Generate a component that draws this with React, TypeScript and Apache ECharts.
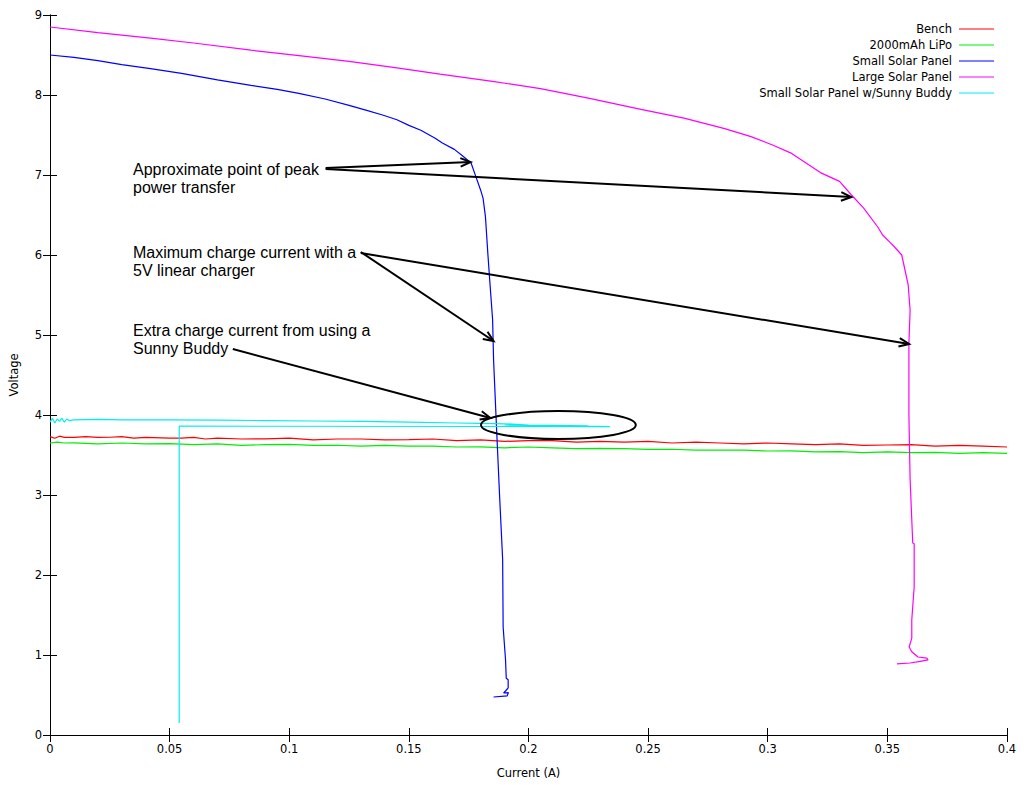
import React, { useEffect, useRef } from "react";
import * as echarts from "echarts";

// ---- data (current A, voltage V) ----
const seriesNames = [
  "Bench",
  "2000mAh LiPo",
  "Small Solar Panel",
  "Large Solar Panel",
  "Small Solar Panel w/Sunny Buddy",
];
const seriesColors = ["#ff0000", "#00ee00", "#0000ff", "#ff00ff", "#00eeee"];

const bench: number[][] = [
  [0, 3.73], [0.002, 3.71], [0.004, 3.735], [0.006, 3.72], [0.01, 3.72], [0.015, 3.73],
  [0.02, 3.72], [0.025, 3.722], [0.03, 3.73], [0.035, 3.71], [0.04, 3.72], [0.05, 3.71],
  [0.055, 3.712], [0.06, 3.72], [0.065, 3.70], [0.07, 3.71], [0.08, 3.70], [0.09, 3.702],
  [0.1, 3.71], [0.11, 3.69], [0.12, 3.70], [0.13, 3.70], [0.14, 3.69], [0.15, 3.692],
  [0.16, 3.70], [0.17, 3.68], [0.18, 3.69], [0.19, 3.67], [0.2, 3.68], [0.21, 3.68],
  [0.22, 3.66], [0.23, 3.67], [0.24, 3.66], [0.25, 3.67], [0.26, 3.65], [0.27, 3.66],
  [0.28, 3.65], [0.29, 3.64], [0.3, 3.65], [0.31, 3.64], [0.32, 3.63], [0.33, 3.64],
  [0.34, 3.62], [0.35, 3.625], [0.36, 3.63], [0.37, 3.61], [0.38, 3.62], [0.39, 3.61],
  [0.4, 3.6],
];

const lipo: number[][] = [
  [0, 3.65], [0.003, 3.66], [0.006, 3.65], [0.01, 3.652], [0.02, 3.64], [0.03, 3.65],
  [0.04, 3.64], [0.05, 3.642], [0.06, 3.63], [0.07, 3.64], [0.08, 3.62], [0.09, 3.63],
  [0.1, 3.632], [0.11, 3.62], [0.12, 3.622], [0.13, 3.61], [0.14, 3.62], [0.15, 3.61],
  [0.16, 3.612], [0.17, 3.60], [0.18, 3.602], [0.19, 3.59], [0.2, 3.60], [0.21, 3.59],
  [0.22, 3.58], [0.23, 3.582], [0.24, 3.58], [0.25, 3.57], [0.26, 3.572], [0.27, 3.56],
  [0.28, 3.562], [0.29, 3.56], [0.3, 3.55], [0.31, 3.552], [0.32, 3.54], [0.33, 3.542],
  [0.34, 3.53], [0.35, 3.54], [0.36, 3.53], [0.37, 3.532], [0.38, 3.52], [0.39, 3.53],
  [0.4, 3.52],
];

const smallPanel: number[][] = [
  [0, 8.5], [0.01, 8.47], [0.02, 8.43], [0.03, 8.38], [0.042, 8.33], [0.055, 8.27],
  [0.07, 8.19], [0.084, 8.12], [0.095, 8.07], [0.104, 8.02], [0.115, 7.95], [0.125, 7.87],
  [0.132, 7.81], [0.139, 7.75], [0.145, 7.69], [0.15, 7.62], [0.155, 7.56], [0.161, 7.46],
  [0.164, 7.4], [0.169, 7.32], [0.172, 7.25], [0.176, 7.15], [0.178, 6.98], [0.18, 6.81],
  [0.181, 6.71], [0.182, 6.48], [0.183, 6.02], [0.184, 5.6], [0.185, 5.19], [0.1854, 4.69],
  [0.1864, 4.0], [0.1879, 3.0], [0.1892, 2.19], [0.1894, 1.35], [0.1904, 0.94],
  [0.1907, 0.71], [0.1915, 0.69], [0.1915, 0.59], [0.1904, 0.55], [0.1896, 0.525],
  [0.1916, 0.53], [0.1911, 0.49], [0.1854, 0.475],
];

const largePanel: number[][] = [
  [0, 8.85], [0.02, 8.78], [0.042, 8.71], [0.06, 8.65], [0.084, 8.56], [0.105, 8.49],
  [0.125, 8.42], [0.145, 8.34], [0.163, 8.26], [0.185, 8.17], [0.205, 8.08], [0.225, 7.96],
  [0.247, 7.82], [0.265, 7.71], [0.282, 7.58], [0.293, 7.48], [0.302, 7.375], [0.31, 7.27],
  [0.316, 7.15], [0.322, 7.03], [0.33, 6.92], [0.335, 6.75], [0.34, 6.59], [0.346, 6.35],
  [0.348, 6.25], [0.351, 6.16], [0.353, 6.1], [0.356, 6.0], [0.3587, 5.625], [0.3595, 5.31],
  [0.359, 4.9], [0.359, 4.0], [0.3595, 3.2], [0.3602, 2.69], [0.3606, 2.4], [0.3612, 2.39],
  [0.3612, 1.85], [0.3602, 1.44], [0.3602, 1.21], [0.3591, 1.1], [0.3602, 1.04],
  [0.3628, 0.975], [0.3665, 0.96], [0.367, 0.94], [0.3637, 0.92], [0.3595, 0.9],
  [0.354, 0.89],
];

const sunnyBuddy: number[][] = [
  [0, 3.91], [0.001, 3.96], [0.002, 3.9], [0.003, 3.95], [0.004, 3.92], [0.005, 3.96],
  [0.006, 3.91], [0.007, 3.95], [0.008, 3.93], [0.01, 3.94], [0.02, 3.945], [0.03, 3.94],
  [0.05, 3.94], [0.07, 3.935], [0.09, 3.93], [0.11, 3.925], [0.13, 3.92], [0.15, 3.91],
  [0.17, 3.9], [0.18, 3.895], [0.19, 3.89], [0.2, 3.875], [0.225, 3.865], [0.2, 3.87],
  [0.19, 3.875], [0.215, 3.868], [0.234, 3.855], [0.054, 3.86], [0.054, 0.15],
];

const xTicks = { min: 0, max: 0.4, interval: 0.05 };
const yTicks = { min: 0, max: 9, interval: 1 };

// annotation arrows: [x1, y1, x2, y2] in data units
const arrows: number[][] = [
  [0.1152, 7.0875, 0.1758, 7.1625],
  [0.1152, 7.075, 0.3349, 6.725],
  [0.1299, 6.0375, 0.1854, 4.925],
  [0.1299, 6.025, 0.3591, 4.8875],
  [0.0764, 4.825, 0.1841, 3.9625],
];
// ellipse: [cx, cy, rx, ry] in data units
const ellipses: number[][] = [[0.2125, 3.875, 0.03235, 0.175]];

const notes = [
  { text: "Approximate point of peak\npower transfer", top: 160 },
  { text: "Maximum charge current with a\n5V linear charger", top: 243 },
  { text: "Extra charge current from using a\nSunny Buddy", top: 321 },
];

const FONT = "DejaVu Sans";
const FS = 11.5;

export default function App() {
  const ref = useRef<HTMLDivElement>(null);
  useEffect(() => {
    if (!ref.current) return;
    const chart = echarts.init(ref.current, undefined, { renderer: "svg" });
    const datasets = [bench, lipo, smallPanel, largePanel, sunnyBuddy];

    const axisCommon = {
      type: "value" as const,
      axisLine: { show: true, lineStyle: { color: "#000", width: 1 } },
      axisTick: { show: true, inside: true, length: 7, lineStyle: { color: "#000" } },
      splitLine: { show: false },
    };

    const legendGraphics: any[] = [];
    seriesNames.forEach((n, i) => {
      const cy = 29 + 16 * i;
      legendGraphics.push({
        type: "text",
        x: 952,
        y: cy,
        style: {
          text: n,
          font: `${FS}px '${FONT}'`,
          fill: "#000",
          textAlign: "right",
          textVerticalAlign: "middle",
        },
      });
      legendGraphics.push({
        type: "line",
        shape: { x1: 959, y1: cy, x2: 994, y2: cy },
        style: { stroke: seriesColors[i], lineWidth: 1 },
      });
    });

    const noteGraphics = notes.map((n) => ({
      type: "text",
      x: 133,
      y: n.top,
      style: {
        text: n.text,
        font: "16px 'Liberation Sans'",
        fill: "#000",
        lineHeight: 18.5,
        textVerticalAlign: "top",
      },
    }));

    chart.setOption({
      animation: false,
      backgroundColor: "#fff",
      grid: { left: 49, right: 21, top: 15, bottom: 50 },
      xAxis: [
        {
          ...axisCommon,
          ...xTicks,
          position: "bottom",
          name: "Current (A)",
          nameLocation: "middle",
          nameGap: 32,
          nameTextStyle: { color: "#000", fontFamily: FONT, fontSize: FS },
          axisLabel: {
            color: "#000",
            fontFamily: FONT,
            fontSize: FS,
            margin: 8,
            formatter: (v: number) => String(Math.round(v * 100) / 100),
          },
        },
        {
          ...axisCommon,
          ...xTicks,
          position: "top",
          axisLabel: { show: false },
        },
      ],
      yAxis: [
        {
          ...axisCommon,
          ...yTicks,
          position: "left",
          name: "Voltage",
          nameLocation: "middle",
          nameGap: 30,
          nameTextStyle: { color: "#000", fontFamily: FONT, fontSize: FS },
          axisLabel: { color: "#000", fontFamily: FONT, fontSize: FS, margin: 8 },
        },
        {
          ...axisCommon,
          ...yTicks,
          position: "right",
          axisLabel: { show: false },
        },
      ],
      series: [
        ...datasets.map((d, i) => ({
          type: "line",
          name: seriesNames[i],
          data: d,
          showSymbol: false,
          symbol: "none",
          lineStyle: { color: seriesColors[i], width: 1.2 },
          itemStyle: { color: seriesColors[i] },
          z: 2 + i,
        })),
        {
          type: "custom",
          name: "arrows",
          data: arrows,
          encode: { x: [0, 2], y: [1, 3] },
          z: 10,
          renderItem: (params: any, api: any) => {
            const a = api.coord([api.value(0), api.value(1)]);
            const b = api.coord([api.value(2), api.value(3)]);
            const ang = Math.atan2(b[1] - a[1], b[0] - a[0]);
            const L = 11;
            const w = 0.4;
            const h1 = [b[0] - L * Math.cos(ang - w), b[1] - L * Math.sin(ang - w)];
            const h2 = [b[0] - L * Math.cos(ang + w), b[1] - L * Math.sin(ang + w)];
            return {
              type: "group",
              children: [
                {
                  type: "line",
                  shape: { x1: a[0], y1: a[1], x2: b[0], y2: b[1] },
                  style: { stroke: "#000", lineWidth: 2 },
                },
                {
                  type: "polyline",
                  shape: { points: [h1, b, h2] },
                  style: { stroke: "#000", lineWidth: 2, fill: null },
                },
              ],
            };
          },
        },
        {
          type: "custom",
          name: "ellipse",
          data: ellipses,
          z: 10,
          renderItem: (params: any, api: any) => {
            const c = api.coord([api.value(0), api.value(1)]);
            const s = api.size([api.value(2), api.value(3)]);
            return {
              type: "ellipse",
              shape: { cx: c[0], cy: c[1], rx: s[0], ry: s[1] },
              style: { stroke: "#000", lineWidth: 2, fill: "none" },
            };
          },
        },
      ],
      graphic: [...legendGraphics, ...noteGraphics],
    });
    return () => chart.dispose();
  }, []);
  return (
    <div
      ref={ref}
      style={{ position: "absolute", left: 0, top: 0, width: 1028, height: 785 }}
    />
  );
}
